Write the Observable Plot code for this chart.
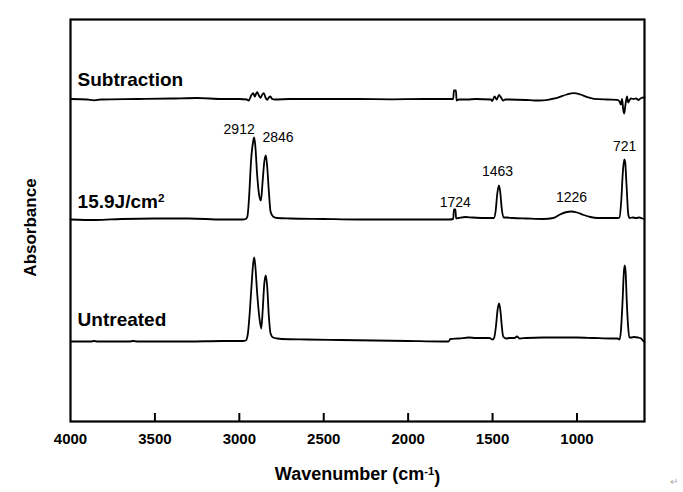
<!DOCTYPE html>
<html>
<head>
<meta charset="utf-8">
<script src="https://cdn.jsdelivr.net/npm/d3@7"></script>
<script src="https://cdn.jsdelivr.net/npm/@observablehq/plot@0.6"></script>
<style>
  html, body { margin: 0; padding: 0; background: #fff; }
</style>
</head>
<body>
<div id="chart"></div>
<script>
// ---- data (wavenumber cm-1, stacked absorbance, arbitrary units) ----
const subtraction = [
  [4000,3.225],[3900,3.22],[3860,3.212],[3820,3.22],[3600,3.225],[3400,3.23],[3250,3.235],[3100,3.225],
  [3000,3.225],[2955,3.22],[2945,3.21],[2928,3.265],[2918,3.283],[2908,3.25],[2900,3.28],[2894,3.293],
  [2884,3.26],[2874,3.237],[2864,3.27],[2855,3.283],[2845,3.24],[2835,3.217],[2825,3.24],[2816,3.25],
  [2805,3.225],[2790,3.22],[2700,3.225],[2500,3.225],[2300,3.225],[2100,3.222],[1900,3.225],[1760,3.225],
  [1733,3.225],[1729,3.31],[1717,3.31],[1713,3.21],[1700,3.22],[1650,3.22],[1600,3.225],[1510,3.22],
  [1502,3.205],[1488,3.25],[1475,3.22],[1462,3.265],[1450,3.24],[1437,3.21],[1425,3.22],[1400,3.22],
  [1300,3.215],[1250,3.21],[1200,3.212],[1150,3.225],[1117,3.237],[1060,3.27],[1019,3.283],[980,3.27],
  [939,3.243],[900,3.227],[820,3.22],[762,3.217],[748,3.2],[740,3.17],[733,3.225],[726,3.12],[720,3.08],
  [715,3.14],[708,3.22],[703,3.25],[697,3.19],[690,3.21],[680,3.23],[665,3.225],[650,3.23],[635,3.215],
  [620,3.235],[605,3.24],[600,3.24]
];
const treated = [
  [4000,2.02],[3850,2.015],[3700,2.025],[3500,2.03],[3300,2.03],[3100,2.02],[2980,2.02],[2962,2.025],
  [2952,2.05],[2942,2.25],[2930,2.62],[2918,2.80],[2912,2.84],[2905,2.75],[2895,2.48],[2884,2.28],
  [2872,2.21],[2862,2.4],[2852,2.6],[2843,2.66],[2835,2.55],[2825,2.3],[2815,2.1],[2800,2.05],
  [2776,2.035],[2700,2.03],[2500,2.025],[2300,2.02],[2100,2.02],[1900,2.02],[1760,2.02],[1733,2.025],
  [1729,2.12],[1720,2.12],[1716,2.03],[1700,2.035],[1660,2.045],[1620,2.04],[1550,2.035],[1492,2.035],
  [1482,2.1],[1472,2.28],[1462,2.36],[1455,2.3],[1445,2.12],[1435,2.04],[1420,2.04],[1380,2.035],
  [1300,2.03],[1200,2.025],[1140,2.035],[1100,2.07],[1060,2.095],[1035,2.10],[1000,2.09],[960,2.065],
  [920,2.045],[880,2.035],[800,2.035],[760,2.035],[748,2.04],[738,2.2],[728,2.5],[720,2.62],[715,2.6],
  [706,2.35],[696,2.07],[688,2.035],[670,2.04],[650,2.035],[630,2.04],[612,2.03],[600,2.025]
];
const untreated = [
  [4000,0.80],[3880,0.80],[3860,0.805],[3840,0.80],[3650,0.80],[3630,0.805],[3600,0.80],[3300,0.80],
  [3100,0.805],[2980,0.805],[2962,0.81],[2950,0.87],[2940,1.05],[2928,1.35],[2918,1.58],[2912,1.64],
  [2905,1.55],[2895,1.3],[2882,1.05],[2870,0.93],[2862,1.1],[2852,1.38],[2843,1.46],[2835,1.35],
  [2825,1.05],[2815,0.88],[2800,0.84],[2775,0.83],[2750,0.825],[2600,0.82],[2400,0.815],[2200,0.81],
  [2000,0.805],[1800,0.80],[1760,0.80],[1750,0.825],[1700,0.83],[1640,0.84],[1600,0.835],[1520,0.835],
  [1498,0.82],[1490,0.84],[1480,0.95],[1470,1.12],[1461,1.18],[1453,1.1],[1445,0.95],[1437,0.85],
  [1420,0.83],[1400,0.835],[1370,0.835],[1355,0.85],[1340,0.83],[1300,0.835],[1200,0.84],[1100,0.84],
  [1000,0.84],[900,0.835],[800,0.83],[760,0.83],[748,0.82],[740,0.9],[730,1.2],[722,1.5],[717,1.56],
  [712,1.5],[705,1.2],[697,0.95],[690,0.84],[680,0.84],[660,0.845],[640,0.84],[620,0.83],[605,0.80],
  [600,0.795]
];

const seriesNames = ["Subtraction", "15.9J/cm2", "Untreated"];
const seriesLabelX = [3958, 3958, 3958];
const seriesLabelY = [3.36, 2.14, 0.96];

const peakLabels = ["2912", "2846", "1724", "1463", "1226", "721"];
const peakLabelX = [3001, 2771, 1721, 1471, 1032, 718];
const peakLabelY = [2.88, 2.793, 2.15, 2.453, 2.193, 2.703];

const xTicks = [4000, 3500, 3000, 2500, 2000, 1500, 1000];
const xDomain = [4000, 600];
const yDomain = [0, 4.02];

// ---- build ----
const toRows = arr => arr.map(([wn, a]) => ({wn, a}));
const seriesRows = [subtraction, treated, untreated].map(toRows);
const seriesLabelRows = seriesNames.map((name, i) => ({name, x: seriesLabelX[i], y: seriesLabelY[i]}));
const peakRows = peakLabels.map((t, i) => ({t, x: peakLabelX[i], y: peakLabelY[i]}));

const font = "'Liberation Sans', Arial, Helvetica, sans-serif";

const svg = Plot.plot({
  width: 683,
  height: 492,
  marginLeft: 70,
  marginRight: 39,
  marginTop: 19,
  marginBottom: 71,
  style: {fontFamily: font, fontSize: "15px", fontWeight: "bold", color: "#000", background: "#fff"},
  x: {domain: xDomain, ticks: xTicks, tickFormat: "d", tickSize: 0, tickPadding: 12, label: null},
  y: {domain: yDomain, axis: null},
  marks: [
    ...seriesRows.map(rows => Plot.line(rows, {x: "wn", y: "a", stroke: "#000", strokeWidth: 1.8, curve: "monotone-x"})),
    Plot.ruleX(xTicks.slice(1), {y1: 0, y2: 0.08, stroke: "#000", strokeWidth: 2}),
    Plot.frame({stroke: "#000", strokeWidth: 2.2}),
    Plot.text(seriesLabelRows, {x: "x", y: "y", text: "name", textAnchor: "start", lineAnchor: "bottom",
      fontSize: 19, fontWeight: "bold", fill: "#000"}),
    Plot.text(peakRows, {x: "x", y: "y", text: "t", textAnchor: "middle", lineAnchor: "bottom",
      fontSize: 14, fontWeight: "normal", fill: "#000"}),
    Plot.text(["Absorbance"], {frameAnchor: "left", rotate: -90, dx: -40, dy: 7, textAnchor: "middle", lineAnchor: "middle",
      fontSize: 17, fontWeight: "bold", fill: "#000"}),
    Plot.text(["Wavenumber (cm-1)"], {frameAnchor: "bottom", dy: 53, dx: 0, lineAnchor: "middle",
      fontSize: 18, fontWeight: "bold", fill: "#000"}),
    Plot.text(["\u21B5"], {frameAnchor: "bottom-right", dx: 33, dy: 60, lineAnchor: "middle",
      fontSize: 10, fontWeight: "normal", fill: "#aaa"})
  ]
});

// superscripts
d3.select(svg).selectAll("text").each(function() {
  const t = this.textContent;
  let base = null, sup = null, tail = "";
  if (t === "15.9J/cm2") { base = "15.9J/cm"; sup = "2"; }
  else if (t === "Wavenumber (cm-1)") { base = "Wavenumber (cm"; sup = "-1"; tail = ")"; }
  if (base === null) return;
  const el = d3.select(this);
  el.text(null);
  el.append("tspan").text(base);
  el.append("tspan").attr("dy", "-0.45em").attr("font-size", "0.62em").text(sup);
  if (tail) el.append("tspan").attr("dy", "0.45em").text(tail);
});

document.getElementById("chart").appendChild(svg);
</script>
</body>
</html>
